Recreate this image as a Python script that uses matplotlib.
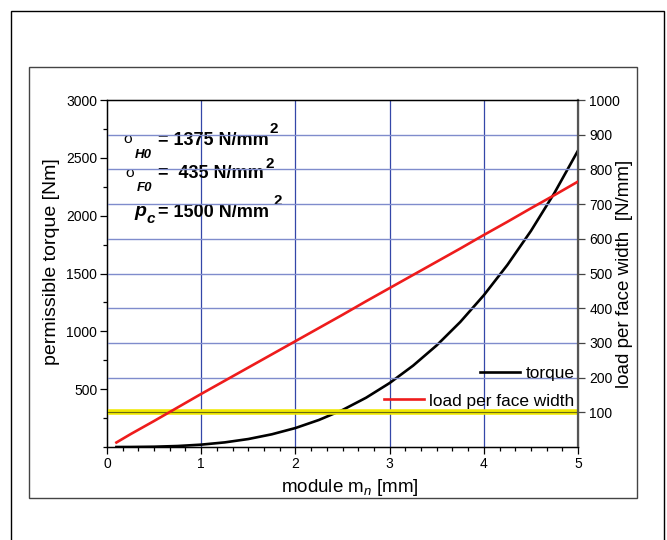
import numpy as np
import matplotlib
matplotlib.use('Agg')
import matplotlib.pyplot as plt
from matplotlib.patches import Rectangle
from matplotlib.ticker import MultipleLocator, FixedLocator

plt.rcParams['font.family'] = ['Liberation Sans', 'DejaVu Sans']
plt.rcParams['mathtext.fontset'] = 'custom'
plt.rcParams['mathtext.rm'] = 'Liberation Sans'
plt.rcParams['mathtext.it'] = 'Liberation Sans:italic'

# module m_n [mm]
module = [0.1, 0.25, 0.5, 0.75, 1.0, 1.25, 1.5, 1.75, 2.0, 2.25, 2.5,
          2.75, 3.0, 3.25, 3.5, 3.75, 4.0, 4.25, 4.5, 4.75, 5.0]
# permissible torque [Nm] (left axis)
torque = [0, 0.3, 2.6, 8.6, 20.5, 40, 69, 110, 164, 234, 320,
          426, 553, 704, 879, 1081, 1312, 1574, 1868, 2197, 2563]
# load per face width [N/mm] (right axis)
load = [13, 37, 75, 114, 153, 191, 229, 267, 305, 343, 381,
        420, 458, 496, 534, 572, 611, 649, 688, 726, 765]
limit_load = 100  # yellow reference line, right axis
grid_x = [1, 2, 3, 4]
grid_load = [200, 300, 400, 500, 600, 700, 800, 900]

fig = plt.figure(figsize=(6.67, 5.4), dpi=100)
ax = fig.add_axes([0.1604, 0.1722, 0.7062, 0.6426])
ax2 = ax.twinx()

# frames around the chart
fig.patches.append(Rectangle((0.0165, -0.05), 0.979, 1.0296, transform=fig.transFigure,
                             fill=False, edgecolor='black', lw=1.0))
fig.patches.append(Rectangle((0.0435, 0.0778), 0.9115, 0.798, transform=fig.transFigure,
                             fill=False, edgecolor='#444444', lw=1.0))

# grid
for gx in grid_x:
    ax.axvline(gx, color='#3447a8', lw=0.9, zorder=1)
for gy in grid_load:
    ax2.axhline(gy, color='#7f8ccc', lw=1.0, zorder=1)
ax2.axhline(limit_load, color='#f0e800', lw=4.0, zorder=2)
ax2.axhline(limit_load, color='#6b6b10', lw=0.8, zorder=2)

l1, = ax.plot(module, torque, color='black', lw=1.9, zorder=3, label='torque')
l2, = ax2.plot(module, load, color='#ee1c1c', lw=1.9, zorder=3, label='load per face width')

ax.set_xlim(0, 5)
ax.set_ylim(0, 3000)
ax2.set_ylim(0, 1000)

ax.xaxis.set_major_locator(MultipleLocator(1))
ax.xaxis.set_minor_locator(MultipleLocator(1 / 6))
ax.yaxis.set_major_locator(FixedLocator([500, 1000, 1500, 2000, 2500, 3000]))
ax.yaxis.set_minor_locator(MultipleLocator(250))
ax2.yaxis.set_major_locator(FixedLocator([100, 200, 300, 400, 500, 600, 700, 800, 900, 1000]))
ax2.yaxis.set_minor_locator(FixedLocator([]))

ax.tick_params(which='major', direction='out', length=5, width=0.9, labelsize=10, pad=2)
ax.tick_params(which='minor', direction='out', length=3, width=0.9)
ax2.tick_params(which='major', direction='out', length=5, width=0.9, labelsize=10, pad=3,
                color='#444444')

for s in ['left', 'bottom', 'top']:
    ax.spines[s].set_linewidth(1.0)
ax2.spines['right'].set_linewidth(1.6)
ax2.spines['right'].set_color('#555555')

ax.set_xlabel('module m$_{\\mathit{n}}$ [mm]', fontsize=13.5)
ax.xaxis.set_label_coords(0.516, -0.085)
ax.set_ylabel('permissible torque [Nm]', fontsize=14)
ax.yaxis.set_label_coords(-0.10, 0.533)
ax2.set_ylabel('load per face width  [N/mm]', fontsize=13.5, labelpad=-3)

# legend: two right-aligned rows
leg1 = ax2.legend(handles=[l1], loc='center right', bbox_to_anchor=(0.992, 0.213),
                  frameon=False, fontsize=12.4, handlelength=2.3, handletextpad=0.3,
                  borderpad=0, borderaxespad=0)
ax2.add_artist(leg1)
ax2.legend(handles=[l2], loc='center right', bbox_to_anchor=(0.992, 0.1326),
           frameon=False, fontsize=12.4, handlelength=2.3, handletextpad=0.3,
           borderpad=0, borderaxespad=0)

# material data annotations
tr = ax.transAxes
ax.text(0.034, 0.876, 'σ', transform=tr, fontsize=11, va='baseline')
ax.text(0.059, 0.833, 'H0', transform=tr, fontsize=9.5, fontweight='bold', style='italic', va='baseline')
ax.text(0.108, 0.870, '= 1375 N/mm', transform=tr, fontsize=13, fontweight='bold', va='baseline')
ax.text(0.346, 0.905, '2', transform=tr, fontsize=11, fontweight='bold', va='baseline')

ax.text(0.040, 0.778, 'σ', transform=tr, fontsize=11, va='baseline')
ax.text(0.064, 0.738, 'F0', transform=tr, fontsize=9.5, fontweight='bold', style='italic', va='baseline')
ax.text(0.108, 0.775, '=  435 N/mm', transform=tr, fontsize=13, fontweight='bold', va='baseline')
ax.text(0.337, 0.804, '2', transform=tr, fontsize=11, fontweight='bold', va='baseline')

ax.text(0.059, 0.666, 'p', transform=tr, fontsize=14, fontweight='bold', style='italic', va='baseline')
ax.text(0.085, 0.646, 'c', transform=tr, fontsize=11, fontweight='bold', style='italic', va='baseline')
ax.text(0.108, 0.663, '= 1500 N/mm', transform=tr, fontsize=13, fontweight='bold', va='baseline')
ax.text(0.354, 0.697, '2', transform=tr, fontsize=11, fontweight='bold', va='baseline')

fig.savefig('out.png', dpi=100)
